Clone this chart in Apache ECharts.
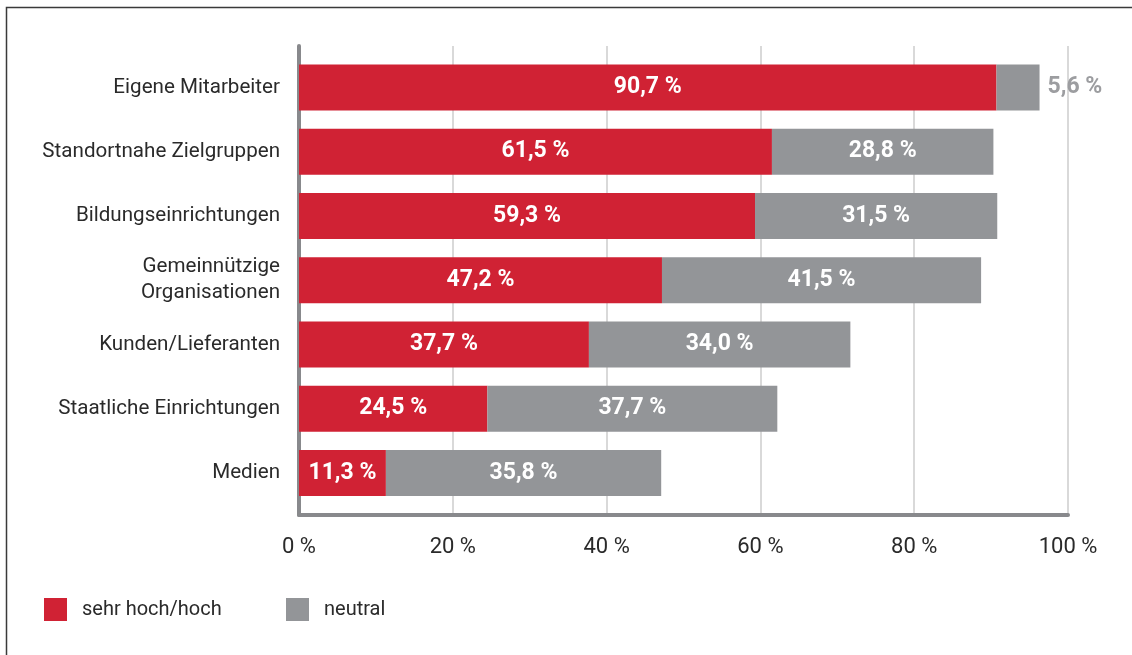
<!DOCTYPE html>
<html>
<head>
<meta charset="utf-8">
<script src="https://cdn.jsdelivr.net/npm/echarts@6/dist/echarts.min.js"></script>
<style>
  html, body { margin: 0; padding: 0; background: #fff; }
  #chart { width: 1132px; height: 655px; }
</style>
</head>
<body>
<div id="chart"></div>
<script>
// Survey categories, top to bottom
const categories = [
  'Eigene Mitarbeiter',
  'Standortnahe Zielgruppen',
  'Bildungseinrichtungen',
  'Gemeinnützige\nOrganisationen',
  'Kunden/Lieferanten',
  'Staatliche Einrichtungen',
  'Medien'
];
// Share of answers in percent
const sehrHochHoch = [90.7, 61.5, 59.3, 47.2, 37.7, 24.5, 11.3];
const neutral = [5.6, 28.8, 31.5, 41.5, 34.0, 37.7, 35.8];
// Axis ticks in percent
const xTicks = [0, 20, 40, 60, 80, 100];

const RED = '#d02234';
const GREY = '#939598';
const TEXT = '#2a2a2a';
const FONT = 'Roboto, "Noto Sans", sans-serif';

const fmt = v => v.toFixed(1).replace('.', ',') + ' %';

const chart = echarts.init(document.getElementById('chart'), null, { renderer: 'canvas' });

const legendBase = {
  top: 598, padding: 0,
  icon: 'rect', itemWidth: 23, itemHeight: 23,
  textStyle: { fontSize: 20, color: TEXT, fontFamily: FONT, padding: [0, 0, 0, 10] },
  selectedMode: false
};

chart.setOption({
  animation: false,
  backgroundColor: '#fff',
  textStyle: { fontFamily: FONT },
  graphic: [{
    type: 'rect',
    shape: { x: 6.5, y: 7.5, width: 1300, height: 800 },
    style: { fill: 'none', stroke: '#3a3a3a', lineWidth: 1.5 },
    silent: true
  }],
  legend: [
    Object.assign({ data: ['sehr hoch/hoch'], left: 44 }, legendBase),
    Object.assign({ data: ['neutral'], left: 286 }, legendBase)
  ],
  grid: [
    // frame with axes and gridlines
    { left: 299, right: 64, top: 46, bottom: 140 },
    // bars
    { left: 299, right: 64, top: 55.4, bottom: 150 }
  ],
  xAxis: [
    {
      gridIndex: 0, type: 'value', min: xTicks[0], max: xTicks[xTicks.length - 1],
      interval: xTicks[1] - xTicks[0],
      axisLine: { show: true, lineStyle: { color: '#88898c', width: 4 } },
      axisTick: { show: false },
      splitLine: { show: true, lineStyle: { color: '#d9d9d9', width: 2 } },
      axisLabel: { formatter: '{value} %', margin: 21, fontSize: 22, color: TEXT, fontFamily: FONT }
    },
    { gridIndex: 1, type: 'value', min: 0, max: 100, show: false }
  ],
  yAxis: [
    {
      gridIndex: 0, type: 'value', min: 0, max: 1,
      axisLine: { show: true, lineStyle: { color: '#88898c', width: 4 } },
      axisTick: { show: false }, axisLabel: { show: false }, splitLine: { show: false }
    },
    {
      gridIndex: 1, type: 'category', data: categories, inverse: true,
      axisLine: { show: false }, axisTick: { show: false }, splitLine: { show: false },
      axisLabel: { fontSize: 20.6, color: TEXT, margin: 19, lineHeight: 26, fontFamily: FONT }
    }
  ],
  series: [
    {
      name: 'sehr hoch/hoch', type: 'bar', stack: 'total',
      xAxisIndex: 1, yAxisIndex: 1, barWidth: 46,
      itemStyle: { color: RED },
      label: {
        show: true, position: 'inside', color: '#fff', fontWeight: 'bold',
        fontSize: 23, fontFamily: FONT, formatter: p => fmt(p.value)
      },
      data: sehrHochHoch
    },
    {
      name: 'neutral', type: 'bar', stack: 'total',
      xAxisIndex: 1, yAxisIndex: 1, barWidth: 46,
      itemStyle: { color: GREY },
      label: {
        show: true, position: 'inside', color: '#fff', fontWeight: 'bold',
        fontSize: 23, fontFamily: FONT, formatter: p => fmt(p.value)
      },
      // the narrow first segment carries its label outside, on the right
      data: neutral.map((v, i) => i === 0
        ? { value: v, label: { position: 'right', distance: 8, color: '#9c9da0' } }
        : v)
    }
  ]
});
</script>
</body>
</html>
